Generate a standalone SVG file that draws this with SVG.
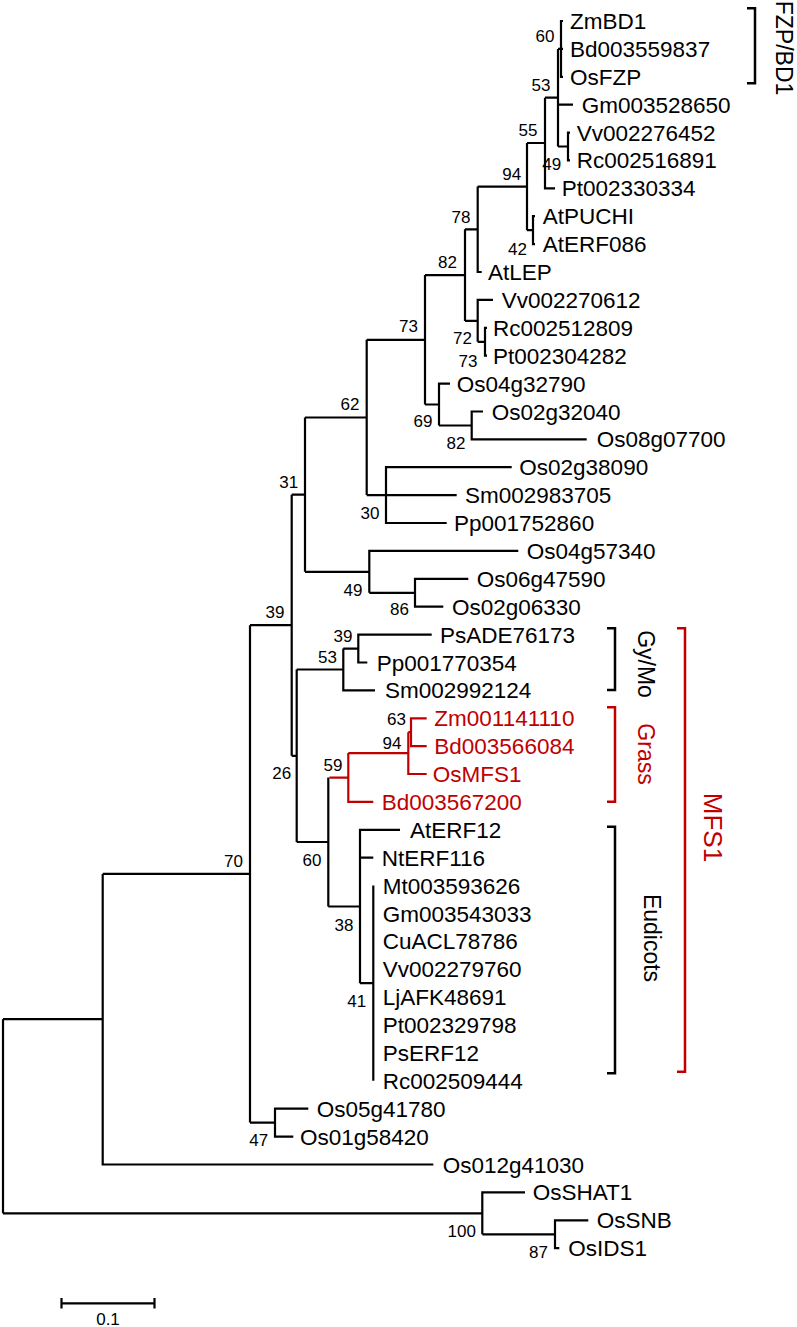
<svg xmlns="http://www.w3.org/2000/svg" width="797" height="1327" viewBox="0 0 797 1327">
<style>
text{font-family:"Liberation Sans",Arial,sans-serif;fill:#000}
.lf{font-size:22.5px}
.red{fill:#c00000}
.bs{font-size:17px;text-anchor:middle}
.rot{font-size:23px;text-anchor:middle}
.e{fill:none;stroke:#000;stroke-width:2.2}
.er{fill:none;stroke:#c00000;stroke-width:2.2}
.br{fill:none;stroke:#000;stroke-width:2.5}
.brr{fill:none;stroke:#c00000;stroke-width:2.5}
</style>
<rect width="797" height="1327" fill="#fff"/>
<g id="connectors">
<path class="e" d="M563,21H561V76.8H563M558,48.9H563"/>
<path class="e" d="M558,48.9V146.5M558,104.7H573M558,146.5H568"/>
<path class="e" d="M570,132.6H568V160.4H570"/>
<path class="e" d="M545,97.7H558M545,97.7V188.3H555M527,143H545"/>
<path class="e" d="M535,216.2H533V244.1H535M527,230.2H533"/>
<path class="e" d="M527,143V230.2M477.7,186.6H527"/>
<path class="e" d="M477.7,186.6V272H481.7M465,229.3H477.7"/>
<path class="e" d="M487,327.8H485V355.7H487M477.7,341.8H485"/>
<path class="e" d="M493,299.9H477.7V341.8M465,320.9H477.7"/>
<path class="e" d="M465,229.3V320.9M425,275.1H465"/>
<path class="e" d="M483,411.5H471.7V439.4H586.7M439,425.5H471.7"/>
<path class="e" d="M450,383.6H439V425.5M425,404.5H439"/>
<path class="e" d="M425,275.1V404.5M366.7,339.8H425"/>
<path class="e" d="M511.7,467.2H386V523H446.7M366.7,495.1H456.7"/>
<path class="e" d="M366.7,339.8V495.1M305,417.5H366.7"/>
<path class="e" d="M468.3,578.8H415V606.7H443.3M369.3,592.8H415"/>
<path class="e" d="M518.3,550.9H369.3V592.8M305,571.8H369.3"/>
<path class="e" d="M305,417.5V571.8M291.7,494.7H305"/>
<path class="e" d="M431.7,634.6H358.3V662.5H367.3M343.3,648.6H358.3"/>
<path class="e" d="M343.3,648.6V690.4H375M296.7,669.5H343.3"/>
<path class="e" d="M373.3,885.6V1080.8M360,983.2H373.3"/>
<path class="e" d="M400,829.8H360V983.2M360,857.7H373.3M328.3,906.5H360"/>
<path class="e" d="M328.3,777.6V906.5M296.7,842H328.3"/>
<path class="e" d="M296.7,669.5V842M291.7,755.8H296.7"/>
<path class="e" d="M291.7,494.7V755.8M250,625.2H291.7"/>
<path class="e" d="M308.3,1108.7H275V1136.6H293.3M250,1122.6H275"/>
<path class="e" d="M250,625.2V1122.6M102.7,873.9H250"/>
<path class="e" d="M102.7,873.9V1164.5H433.3M3,1019.2H102.7"/>
<path class="e" d="M588.3,1220.3H555V1248.2H559.3M482.3,1234.3H555"/>
<path class="e" d="M525,1192.4H482.3V1234.3M3,1213.3H482.3"/>
<path class="e" d="M3,1019.2V1213.3"/>
<path class="er" d="M426.7,718.3H411V746.1H426.7M408.3,732.2H411"/>
<path class="er" d="M408.3,732.2V774H426.7M348.3,753.1H408.3"/>
<path class="er" d="M348.3,753.1V801.9H373.3M329.4,777.6H348.3"/>
</g>
<g id="leaves" class="lf">
<g id="n-ZmBD1"><text class="lf" x="570" y="29">ZmBD1</text></g>
<g id="n-Bd003559837"><text class="lf" x="570" y="56.9">Bd003559837</text></g>
<g id="n-OsFZP"><text class="lf" x="570" y="84.8">OsFZP</text></g>
<g id="n-Gm003528650"><text class="lf" x="581.7" y="112.7">Gm003528650</text></g>
<g id="n-Vv002276452"><text class="lf" x="576.7" y="140.6">Vv002276452</text></g>
<g id="n-Rc002516891"><text class="lf" x="576.7" y="168.4">Rc002516891</text></g>
<g id="n-Pt002330334"><text class="lf" x="561.7" y="196.3">Pt002330334</text></g>
<g id="n-AtPUCHI"><text class="lf" x="542.7" y="224.2">AtPUCHI</text></g>
<g id="n-AtERF086"><text class="lf" x="542.7" y="252.1">AtERF086</text></g>
<g id="n-AtLEP"><text class="lf" x="488" y="280">AtLEP</text></g>
<g id="n-Vv002270612"><text class="lf" x="501.7" y="307.9">Vv002270612</text></g>
<g id="n-Rc002512809"><text class="lf" x="493" y="335.8">Rc002512809</text></g>
<g id="n-Pt002304282"><text class="lf" x="493" y="363.7">Pt002304282</text></g>
<g id="n-Os04g32790"><text class="lf" x="456.7" y="391.6">Os04g32790</text></g>
<g id="n-Os02g32040"><text class="lf" x="491.7" y="419.5">Os02g32040</text></g>
<g id="n-Os08g07700"><text class="lf" x="596.7" y="447.4">Os08g07700</text></g>
<g id="n-Os02g38090"><text class="lf" x="519.3" y="475.2">Os02g38090</text></g>
<g id="n-Sm002983705"><text class="lf" x="465" y="503.1">Sm002983705</text></g>
<g id="n-Pp001752860"><text class="lf" x="454" y="531">Pp001752860</text></g>
<g id="n-Os04g57340"><text class="lf" x="526.7" y="558.9">Os04g57340</text></g>
<g id="n-Os06g47590"><text class="lf" x="476.7" y="586.8">Os06g47590</text></g>
<g id="n-Os02g06330"><text class="lf" x="452" y="614.7">Os02g06330</text></g>
<g id="n-PsADE76173"><text class="lf" x="440" y="642.6">PsADE76173</text></g>
<g id="n-Pp001770354"><text class="lf" x="376.7" y="670.5">Pp001770354</text></g>
<g id="n-Sm002992124"><text class="lf" x="385" y="698.4">Sm002992124</text></g>
<g id="n-Zm001141110"><text class="lf red" x="434.3" y="726.3">Zm001141110</text></g>
<g id="n-Bd003566084"><text class="lf red" x="434.3" y="754.1">Bd003566084</text></g>
<g id="n-OsMFS1"><text class="lf red" x="432.7" y="782">OsMFS1</text></g>
<g id="n-Bd003567200"><text class="lf red" x="381.7" y="809.9">Bd003567200</text></g>
<g id="n-AtERF12"><text class="lf" x="410" y="837.8">AtERF12</text></g>
<g id="n-NtERF116"><text class="lf" x="381.7" y="865.7">NtERF116</text></g>
<g id="n-Mt003593626"><text class="lf" x="382.7" y="893.6">Mt003593626</text></g>
<g id="n-Gm003543033"><text class="lf" x="382.7" y="921.5">Gm003543033</text></g>
<g id="n-CuACL78786"><text class="lf" x="382.7" y="949.4">CuACL78786</text></g>
<g id="n-Vv002279760"><text class="lf" x="382.7" y="977.3">Vv002279760</text></g>
<g id="n-LjAFK48691"><text class="lf" x="382.7" y="1005.2">LjAFK48691</text></g>
<g id="n-Pt002329798"><text class="lf" x="382.7" y="1033">Pt002329798</text></g>
<g id="n-PsERF12"><text class="lf" x="382.7" y="1060.9">PsERF12</text></g>
<g id="n-Rc002509444"><text class="lf" x="382.7" y="1088.8">Rc002509444</text></g>
<g id="n-Os05g41780"><text class="lf" x="316.7" y="1116.7">Os05g41780</text></g>
<g id="n-Os01g58420"><text class="lf" x="300" y="1144.6">Os01g58420</text></g>
<g id="n-Os012g41030"><text class="lf" x="442.7" y="1172.5">Os012g41030</text></g>
<g id="n-OsSHAT1"><text class="lf" x="532.7" y="1200.4">OsSHAT1</text></g>
<g id="n-OsSNB"><text class="lf" x="596.7" y="1228.3">OsSNB</text></g>
<g id="n-OsIDS1"><text class="lf" x="568.3" y="1256.2">OsIDS1</text></g>
</g>
<g id="bootstrap">
<text class="bs" x="545" y="41.5">60</text>
<text class="bs" x="541" y="91">53</text>
<text class="bs" x="528" y="136">55</text>
<text class="bs" x="551.7" y="170">49</text>
<text class="bs" x="511.7" y="180">94</text>
<text class="bs" x="461" y="223">78</text>
<text class="bs" x="517.5" y="254.5">42</text>
<text class="bs" x="447.5" y="268">82</text>
<text class="bs" x="408.5" y="332.3">73</text>
<text class="bs" x="462.5" y="344">72</text>
<text class="bs" x="468" y="367">73</text>
<text class="bs" x="350" y="410">62</text>
<text class="bs" x="423" y="427">69</text>
<text class="bs" x="456" y="449">82</text>
<text class="bs" x="288.7" y="488">31</text>
<text class="bs" x="370" y="518.5">30</text>
<text class="bs" x="353" y="595.5">49</text>
<text class="bs" x="399.5" y="615">86</text>
<text class="bs" x="275" y="618">39</text>
<text class="bs" x="343" y="642">39</text>
<text class="bs" x="327.5" y="663">53</text>
<text class="bs" x="396.5" y="725">63</text>
<text class="bs" x="392" y="748.5">94</text>
<text class="bs" x="333" y="771">59</text>
<text class="bs" x="281.7" y="779.3">26</text>
<text class="bs" x="312" y="866">60</text>
<text class="bs" x="233.5" y="867">70</text>
<text class="bs" x="344" y="930.5">38</text>
<text class="bs" x="356.7" y="1007">41</text>
<text class="bs" x="258.8" y="1146">47</text>
<text class="bs" x="461.7" y="1236.7">100</text>
<text class="bs" x="538.5" y="1258">87</text>
</g>
<g id="clade-brackets">
<path class="br" d="M747,8.3H755V83.3H747"/>
<text class="rot" transform="translate(784,48) rotate(90)" y="8.2">FZP/BD1</text>
<path class="br" d="M607,628.3H615V690H607"/>
<text class="rot" transform="translate(646.7,664) rotate(90)" y="8.2">Gy/Mo</text>
<path class="brr" d="M607,707.3H615V801.7H607"/>
<text class="rot red" transform="translate(646.5,754) rotate(90)" y="8.2">Grass</text>
<path class="br" d="M607,826.7H615V1073.3H607"/>
<text class="rot" transform="translate(652,938) rotate(90)" y="8.2">Eudicots</text>
<path class="brr" d="M677,628.3H685V1071.7H677"/>
<text class="rot red" style="font-size:26px" transform="translate(713,827.5) rotate(90)" y="9.3">MFS1</text>
</g>
<g id="scale-bar">
<path class="e" d="M61.5,1303.3H154.5M61.5,1298V1308.6M154.5,1298V1308.6"/>
<text class="bs" x="108" y="1325">0.1</text>
</g>
</svg>
